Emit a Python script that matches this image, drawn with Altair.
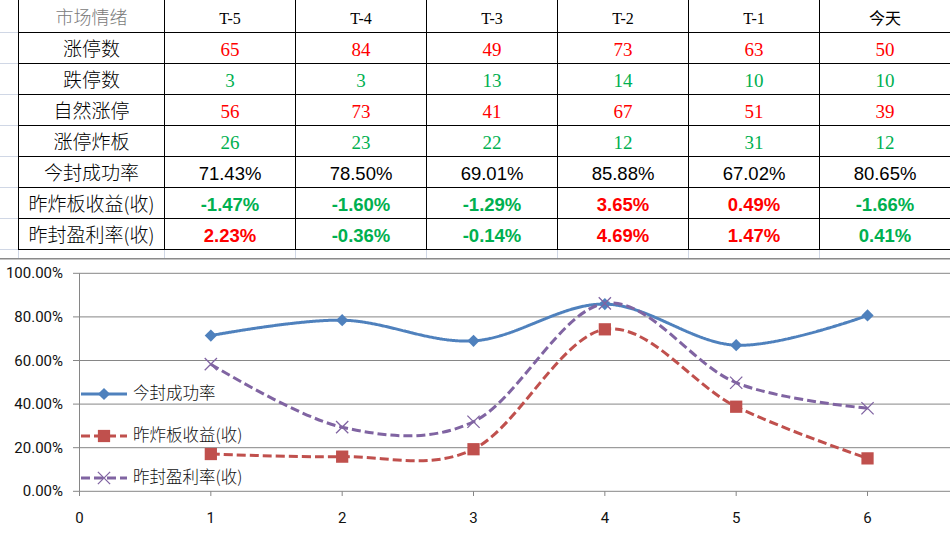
import altair as alt
import pandas as pd

# ---------------- data ----------------
col_headers = ["市场情绪", "T-5", "T-4", "T-3", "T-2", "T-1", "今天"]
row_labels = ["涨停数", "跌停数", "自然涨停", "涨停炸板", "今封成功率", "昨炸板收益(收)", "昨封盈利率(收)"]
limit_up = [65, 84, 49, 73, 63, 50]
limit_down = [3, 3, 13, 14, 10, 10]
natural_up = [56, 73, 41, 67, 51, 39]
broken = [26, 23, 22, 12, 31, 12]
seal_rate = ["71.43%", "78.50%", "69.01%", "85.88%", "67.02%", "80.65%"]
broken_ret = ["-1.47%", "-1.60%", "-1.29%", "3.65%", "0.49%", "-1.66%"]
broken_ret_up = [False, False, False, True, True, False]
sealed_ret = ["2.23%", "-0.36%", "-0.14%", "4.69%", "1.47%", "0.41%"]
sealed_ret_up = [True, False, False, True, True, False]

x_days = [1, 2, 3, 4, 5, 6]
series_names = ["今封成功率", "昨炸板收益(收)", "昨封盈利率(收)"]
s_seal = [71.43, 78.50, 69.01, 85.88, 67.02, 80.65]
s_broken = [17.1, 15.9, 19.3, 74.3, 38.8, 15.1]
s_sealed = [58.3, 29.4, 31.9, 86.2, 49.8, 38.1]
y_ticks = [0, 20, 40, 60, 80, 100]
x_ticks = [0, 1, 2, 3, 4, 5, 6]

RED = "#ff0000"
GREEN = "#00b050"
BLACK = "#000000"
GRID_XL = "#d0d7e5"

# ---------------- table layout ----------------
left = 18
col_widths = [146] + [131] * 6
edges = [left]
for w in col_widths:
    edges.append(edges[-1] + w)
centers = [(edges[i] + edges[i + 1]) / 2 for i in range(len(col_widths))]

tx = alt.Scale(domain=[0, 950], range=[0.5, 950.5], nice=False, zero=False)
ty = alt.Scale(domain=[0, 8], range=[1.5, 249.5], nice=False, zero=False)


def cells(items):
    return pd.DataFrame([{"xc": centers[c], "row": r + 0.5, "text": str(t), "color": col}
                         for r, c, t, col in items])


def text_layer(df, font, size, weight="normal", dy=2.0):
    return alt.Chart(df).mark_text(font=font, fontSize=size, fontWeight=weight,
                                   baseline="middle", align="center", dy=dy).encode(
        x=alt.X("xc:Q", scale=tx, axis=None),
        y=alt.Y("row:Q", scale=ty, axis=None),
        text="text:N",
        color=alt.Color("color:N", scale=None),
    )


cjk = "Noto Sans CJK SC"
serif = "Liberation Serif, Noto Sans CJK SC"
sans = "Liberation Sans, Arial"

hdr0 = cells([(0, 0, col_headers[0], "#7a7a7a")])
hdr = cells([(0, c, col_headers[c], BLACK) for c in range(1, 7)])
lbl = cells([(r + 1, 0, row_labels[r], BLACK) for r in range(7)])
cnt_items = []
for r, (vals, colr) in enumerate([(limit_up, RED), (limit_down, GREEN), (natural_up, RED), (broken, GREEN)]):
    for c, v in enumerate(vals):
        cnt_items.append((r + 1, c + 1, v, colr))
cnt = cells(cnt_items)
rate = cells([(5, c + 1, v, BLACK) for c, v in enumerate(seal_rate)])
ret_items = []
for c, v in enumerate(broken_ret):
    ret_items.append((6, c + 1, v, RED if broken_ret_up[c] else GREEN))
for c, v in enumerate(sealed_ret):
    ret_items.append((7, c + 1, v, RED if sealed_ret_up[c] else GREEN))
ret = cells(ret_items)

hlines = pd.DataFrame({"row": list(range(1, 9))})
vlines = pd.DataFrame({"xe": edges[:-1]})

table_layers = [
    # excel sheet gridlines outside the table
    alt.Chart(hlines).mark_rule(color=GRID_XL, strokeWidth=1).encode(
        y=alt.Y("row:Q", scale=ty, axis=None), x=alt.value(0), x2=alt.value(left)),
    alt.Chart(vlines).mark_rule(color=GRID_XL, strokeWidth=1).encode(
        x=alt.X("xe:Q", scale=tx, axis=None), y=alt.value(249), y2=alt.value(258)),
    # table borders
    alt.Chart(hlines).mark_rule(color=BLACK, strokeWidth=1).encode(
        y=alt.Y("row:Q", scale=ty, axis=None), x=alt.value(left), x2=alt.value(950)),
    alt.Chart(vlines).mark_rule(color=BLACK, strokeWidth=1).encode(
        x=alt.X("xe:Q", scale=tx, axis=None), y=alt.value(0), y2=alt.value(249.5)),
    # chart area top border
    alt.Chart(hlines.head(1)).mark_rule(color="#8a8a8a", strokeWidth=1.5).encode(
        y=alt.value(258.7), x=alt.value(0), x2=alt.value(950)),
    text_layer(hdr0, cjk, 18, weight=300, dy=1.5),
    text_layer(hdr, serif, 16, dy=1.5),
    text_layer(lbl, cjk, 19, weight=300, dy=1.5),
    text_layer(cnt, serif, 19, dy=2),
    text_layer(rate, sans, 18.5, dy=2),
    text_layer(ret, sans, 18.5, weight="bold", dy=2),
]
table = alt.layer(*table_layers)

# ---------------- line chart ----------------
cx = alt.Scale(domain=[0, 6.628], range=[79.5, 950], nice=False, zero=False)
cy = alt.Scale(domain=[0, 100], range=[491.3, 273.3], nice=False, zero=False)

AX = "#868686"
ytick_df = pd.DataFrame({"t": y_ticks, "label": [f"{t:.2f}%" for t in y_ticks]})
xtick_df = pd.DataFrame({"t": x_ticks, "label": [str(t) for t in x_ticks]})
axis_font = "Roboto"

chart_layers = [
    alt.Chart(ytick_df).mark_rule(color=AX, strokeWidth=1).encode(
        y=alt.Y("t:Q", scale=cy, axis=None), x=alt.value(73), x2=alt.value(950)),
    alt.Chart(ytick_df.head(1)).mark_rule(color=AX, strokeWidth=1).encode(
        x=alt.X("t:Q", scale=cx, axis=None), y=alt.Y("t:Q", scale=cy, axis=None),
        y2=alt.datum(100)),
    alt.Chart(xtick_df).mark_rule(color=AX, strokeWidth=1).encode(
        x=alt.X("t:Q", scale=cx, axis=None), y=alt.value(491.3), y2=alt.value(496)),
    alt.Chart(ytick_df).mark_text(font=axis_font, fontSize=15, align="right", baseline="middle",
                                   color="#111111").encode(
        y=alt.Y("t:Q", scale=cy, axis=None), x=alt.value(63), text="label:N"),
    alt.Chart(xtick_df).mark_text(font=axis_font, fontSize=15, align="center", baseline="middle",
                                   color="#111111").encode(
        x=alt.X("t:Q", scale=cx, axis=None), y=alt.value(518), text="label:N"),
]

styles = [
    dict(values=s_seal, color="#4f81bd", dash=[1, 0], shape="diamond", size=150, filled=True),
    dict(values=s_broken, color="#c0504d", dash=[9, 4], shape="square", size=150, filled=True),
    dict(values=s_sealed, color="#8064a2", dash=[9, 4], shape="M-1,-1L1,1M-1,1L1,-1", size=150, filled=False),
]

for name, st in zip(series_names, styles):
    df = pd.DataFrame({"x": x_days, "v": st["values"], "series": name})
    chart_layers.append(
        alt.Chart(df).mark_line(color=st["color"], strokeWidth=3, strokeDash=st["dash"],
                                interpolate="cardinal").encode(
            x=alt.X("x:Q", scale=cx, axis=None), y=alt.Y("v:Q", scale=cy, axis=None)))
for name, st in zip(series_names, styles):
    df = pd.DataFrame({"x": x_days, "v": st["values"], "series": name})
    if st["filled"]:
        pm = alt.Chart(df).mark_point(shape=st["shape"], size=st["size"], filled=True,
                                      color=st["color"], opacity=1)
    else:
        pm = alt.Chart(df).mark_point(shape=st["shape"], size=st["size"], filled=False,
                                      color=st["color"], opacity=1, strokeWidth=1.3)
    chart_layers.append(pm.encode(x=alt.X("x:Q", scale=cx, axis=None),
                                  y=alt.Y("v:Q", scale=cy, axis=None)))
chart = alt.layer(*chart_layers)

# ---------------- legend (inside plot, left) ----------------
legend_layers = []
leg_y0, leg_step = 394, 42
for i, (name, st) in enumerate(zip(series_names, styles)):
    ly = leg_y0 + i * leg_step
    df = pd.DataFrame({"series": [name]})
    legend_layers.append(
        alt.Chart(df).mark_rule(color=st["color"], strokeWidth=3, strokeDash=st["dash"]).encode(
            x=alt.value(81), x2=alt.value(127), y=alt.value(ly)))
    if st["filled"]:
        pm = alt.Chart(df).mark_point(shape=st["shape"], size=st["size"], filled=True,
                                      color=st["color"], opacity=1)
    else:
        pm = alt.Chart(df).mark_point(shape=st["shape"], size=st["size"], filled=False,
                                      color=st["color"], opacity=1, strokeWidth=1.3)
    legend_layers.append(pm.encode(x=alt.value(104), y=alt.value(ly)))
    legend_layers.append(
        alt.Chart(df).mark_text(font="Noto Sans CJK SC", fontSize=16.5, fontWeight=300, align="left",
                                baseline="middle", color="#111111").encode(
            x=alt.value(133), y=alt.value(ly), text="series:N"))
legend = alt.layer(*legend_layers)

final = alt.layer(table, chart, legend).resolve_scale(
    x="independent", y="independent"
).properties(
    width=950, height=538, padding=0, background="white",
    autosize=alt.AutoSizeParams(type="none"),
).configure_view(stroke=None)

final.save("out.html", embed_options={"renderer": "svg", "actions": False})
